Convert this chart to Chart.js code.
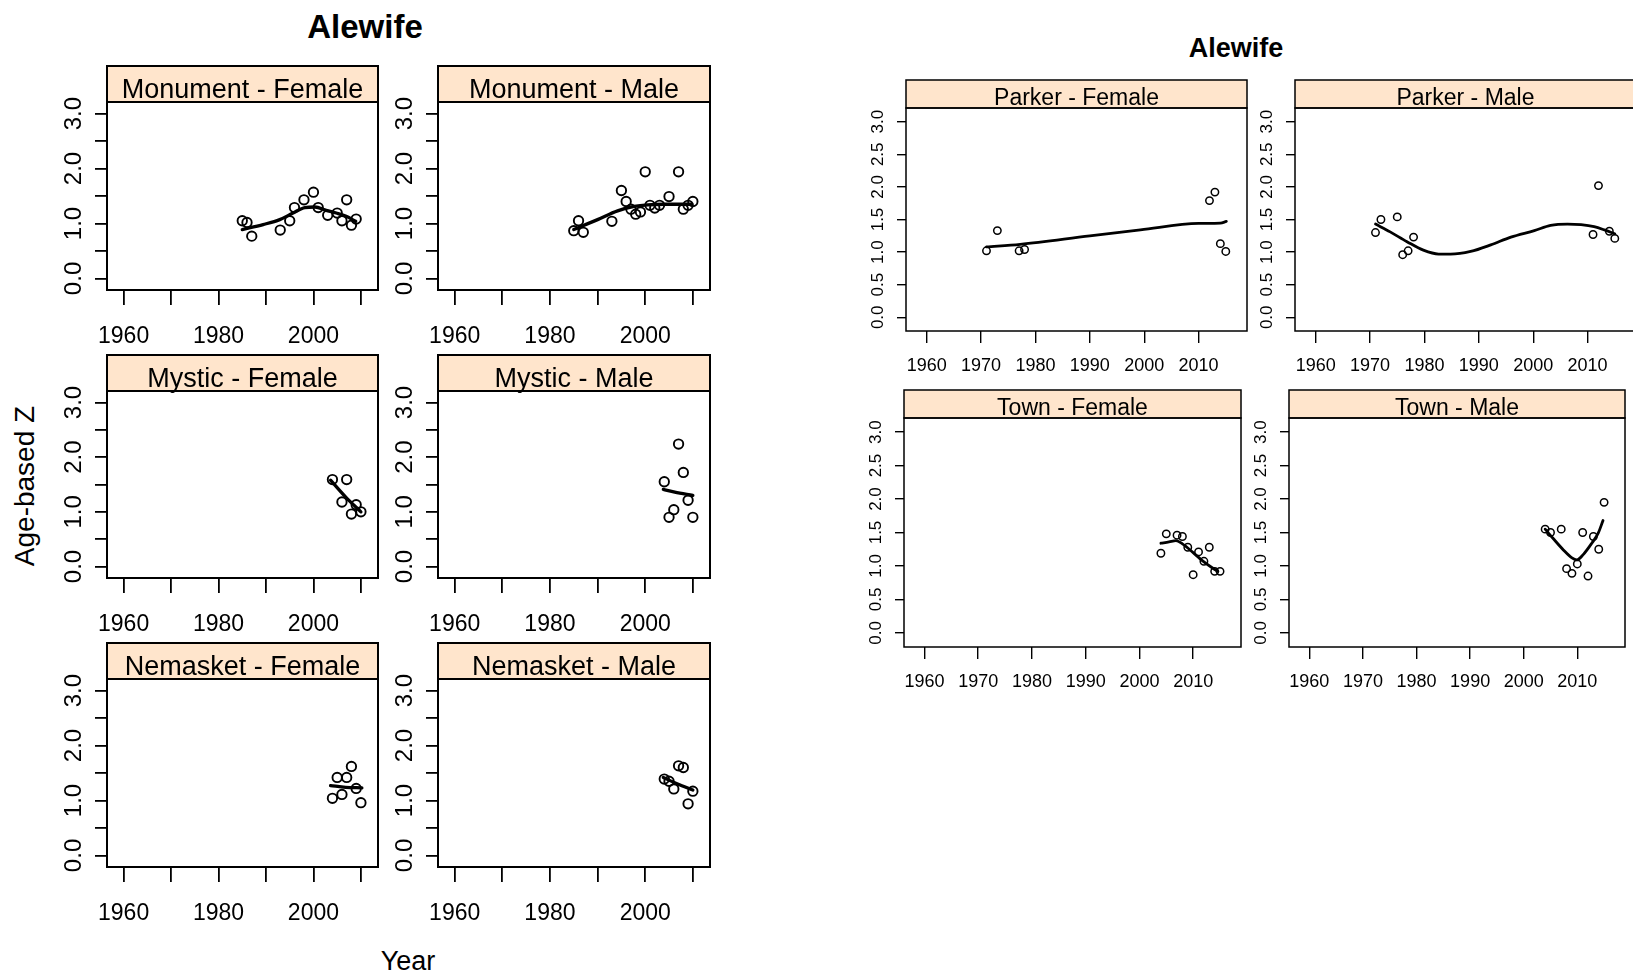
<!DOCTYPE html>
<html>
<head>
<meta charset="utf-8">
<title>Alewife - Age-based Z</title>
<script src="https://cdn.jsdelivr.net/npm/chart.js@4"></script>
<style>
  html, body { margin: 0; padding: 0; background: #fff; overflow: hidden; }
  #page { position: relative; width: 1633px; height: 979px; overflow: hidden; background: #fff;
          font-family: 'Liberation Sans', Arial, Helvetica, sans-serif; }
  #page canvas { position: absolute; }
  .label { position: absolute; white-space: nowrap; color: #000; line-height: 1; }
</style>
</head>
<body>
<div id="page">
  <div class="label" style="left:365px; top:26px; font-size:33px; font-weight:bold; transform:translate(-50%,-50%);">Alewife</div>
  <div class="label" style="left:1236px; top:48px; font-size:27px; font-weight:bold; transform:translate(-50%,-50%);">Alewife</div>
  <div class="label" style="left:25px; top:486px; font-size:28px; transform:translate(-50%,-50%) rotate(-90deg);">Age-based Z</div>
  <div class="label" style="left:408px; top:961px; font-size:27px; transform:translate(-50%,-50%);">Year</div>
</div>
<script>
Chart.defaults.font.family = "'Liberation Sans', Arial, Helvetica, sans-serif";
Chart.defaults.color = "#000";

// Axis ticks and labels
const yTickValues = [0, 0.5, 1, 1.5, 2, 2.5, 3];
const yearTickValues = [1960, 1970, 1980, 1990, 2000, 2010];
const leftYearLabels = [1960, 1980, 2000];
const rightYearLabels = [1960, 1970, 1980, 1990, 2000, 2010];
const leftZLabels = [0, 1, 2, 3];
const rightZLabels = [0, 0.5, 1, 1.5, 2, 2.5, 3];

// Monument
const monumentFemaleYear = [1985, 1986, 1987, 1993, 1995, 1996, 1998, 2000, 2001, 2003, 2005, 2006, 2007, 2008, 2009];
const monumentFemaleZ = [1.05, 1.02, 0.77, 0.88, 1.05, 1.29, 1.43, 1.57, 1.29, 1.15, 1.19, 1.05, 1.43, 0.97, 1.08];
const monumentFemaleFitYear = [1985, 1989.4, 1992.9, 1995.7, 1998.2, 2000.3, 2002.7, 2004.8, 2006.9, 2008.9];
const monumentFemaleFitZ = [0.89, 0.98, 1.07, 1.19, 1.29, 1.30, 1.24, 1.19, 1.13, 1.04];

const monumentMaleYear = [1985, 1986, 1987, 1993, 1995, 1996, 1997, 1998, 1999, 2000, 2001, 2002, 2003, 2005, 2007, 2008, 2009, 2010];
const monumentMaleZ = [0.87, 1.05, 0.84, 1.04, 1.60, 1.40, 1.26, 1.17, 1.21, 1.94, 1.33, 1.28, 1.33, 1.49, 1.94, 1.26, 1.33, 1.40];
const monumentMaleFitYear = [1985, 1990, 1994.2, 1997.7, 2000.5, 2004, 2009.8];
const monumentMaleFitZ = [0.89, 1.07, 1.23, 1.31, 1.34, 1.35, 1.35];

// Mystic
const mysticFemaleYear = [2004, 2006, 2007, 2008, 2009, 2010];
const mysticFemaleZ = [1.59, 1.18, 1.59, 0.96, 1.13, 1.00];
const mysticFemaleFitYear = [2003.6, 2006.8, 2010];
const mysticFemaleFitZ = [1.58, 1.27, 1.00];

const mysticMaleYear = [2004, 2005, 2006, 2007, 2008, 2009, 2010];
const mysticMaleZ = [1.55, 0.90, 1.04, 2.24, 1.72, 1.21, 0.90];
const mysticMaleFitYear = [2003.8, 2006.2, 2010];
const mysticMaleFitZ = [1.41, 1.36, 1.30];

// Nemasket
const nemasketFemaleYear = [2004, 2005, 2006, 2007, 2008, 2009, 2010];
const nemasketFemaleZ = [1.04, 1.42, 1.11, 1.42, 1.62, 1.22, 0.96];
const nemasketFemaleFitYear = [2003.6, 2006.8, 2010.2];
const nemasketFemaleFitZ = [1.27, 1.24, 1.23];

const nemasketMaleYear = [2004, 2005, 2006, 2007, 2008, 2009, 2010];
const nemasketMaleZ = [1.39, 1.35, 1.21, 1.63, 1.60, 0.94, 1.17];
const nemasketMaleFitYear = [2003.8, 2006.8, 2010];
const nemasketMaleFitZ = [1.42, 1.30, 1.19];

// Parker
const parkerFemaleYear = [1971, 1973, 1977, 1978, 2012, 2013, 2014, 2015];
const parkerFemaleZ = [1.02, 1.33, 1.02, 1.04, 1.79, 1.92, 1.13, 1.01];
const parkerFemaleFitYear = [1971, 1977.2, 1990, 1999.3, 2010, 2014, 2015.1];
const parkerFemaleFitZ = [1.08, 1.12, 1.25, 1.34, 1.44, 1.445, 1.47];

const parkerMaleYear = [1971, 1972, 1975, 1976, 1977, 1978, 2011, 2012, 2014, 2015];
const parkerMaleZ = [1.30, 1.50, 1.54, 0.96, 1.02, 1.23, 1.27, 2.02, 1.32, 1.21];
const parkerMaleFitYear = [1971, 1973.7, 1976.8, 1979.8, 1982.6, 1984.8, 1988.5, 1992.2, 1995.9, 2000.2, 2003.2, 2006.3, 2008.8, 2011.2, 2013.1, 2015];
const parkerMaleFitZ = [1.43, 1.31, 1.16, 1.03, 0.97, 0.97, 1.01, 1.11, 1.23, 1.33, 1.41, 1.43, 1.42, 1.39, 1.34, 1.28];

// Town
const townFemaleYear = [2004, 2005, 2007, 2008, 2009, 2010, 2011, 2012, 2013, 2014, 2015];
const townFemaleZ = [1.19, 1.48, 1.46, 1.44, 1.28, 0.87, 1.21, 1.07, 1.28, 0.92, 0.92];
const townFemaleFitYear = [2004, 2005.5, 2006.8, 2008, 2010, 2011.7, 2013.6, 2014.6];
const townFemaleFitZ = [1.34, 1.36, 1.38, 1.33, 1.20, 1.08, 0.97, 0.92];

const townMaleYear = [2004, 2005, 2007, 2008, 2009, 2010, 2011, 2012, 2013, 2014, 2015];
const townMaleZ = [1.55, 1.50, 1.55, 0.96, 0.89, 1.03, 1.50, 0.85, 1.44, 1.25, 1.95];
const townMaleFitYear = [2004, 2005.5, 2007.4, 2009, 2009.9, 2011.1, 2012.7, 2013.9, 2014.8];
const townMaleFitZ = [1.55, 1.41, 1.24, 1.12, 1.09, 1.17, 1.34, 1.49, 1.68];

// Look of the two panel groups
const leftStyle = {
  stripH: 36, stripFont: 27, textLift: 4, boxW: 2, tickW: 1.8,
  xFont: 23, xTick: 15, xPad: 18, yFont: 24, yTick: 12, yLabelGap: 33,
  padLeft: 50, padBottom: 66, xMin: 1956.5, xMax: 2013.6,
  yearLabels: leftYearLabels, zLabels: leftZLabels,
  pointR: 4.7, pointBW: 1.9, lineW: 3.3
};
const rightStyle = {
  stripH: 28, stripFont: 23, textLift: 3, boxW: 1.5, tickW: 1.4,
  xFont: 18, xTick: 12, xPad: 12, yFont: 17, yTick: 9, yLabelGap: 28,
  padLeft: 42, padBottom: 54, xMin: 1956.2, xMax: 2018.9,
  yearLabels: rightYearLabels, zLabels: rightZLabels,
  pointR: 3.7, pointBW: 1.5, lineW: 2.8
};

const panels = [
  { title: "Monument - Female", year: monumentFemaleYear, z: monumentFemaleZ, fitYear: monumentFemaleFitYear, fitZ: monumentFemaleFitZ, style: leftStyle, box: [107, 102, 378, 290] },
  { title: "Monument - Male", year: monumentMaleYear, z: monumentMaleZ, fitYear: monumentMaleFitYear, fitZ: monumentMaleFitZ, style: leftStyle, box: [438, 102, 710, 290] },
  { title: "Mystic - Female", year: mysticFemaleYear, z: mysticFemaleZ, fitYear: mysticFemaleFitYear, fitZ: mysticFemaleFitZ, style: leftStyle, box: [107, 391, 378, 578] },
  { title: "Mystic - Male", year: mysticMaleYear, z: mysticMaleZ, fitYear: mysticMaleFitYear, fitZ: mysticMaleFitZ, style: leftStyle, box: [438, 391, 710, 578] },
  { title: "Nemasket - Female", year: nemasketFemaleYear, z: nemasketFemaleZ, fitYear: nemasketFemaleFitYear, fitZ: nemasketFemaleFitZ, style: leftStyle, box: [107, 679, 378, 867] },
  { title: "Nemasket - Male", year: nemasketMaleYear, z: nemasketMaleZ, fitYear: nemasketMaleFitYear, fitZ: nemasketMaleFitZ, style: leftStyle, box: [438, 679, 710, 867] },
  { title: "Parker - Female", year: parkerFemaleYear, z: parkerFemaleZ, fitYear: parkerFemaleFitYear, fitZ: parkerFemaleFitZ, style: rightStyle, box: [906, 108, 1247, 331] },
  { title: "Parker - Male", year: parkerMaleYear, z: parkerMaleZ, fitYear: parkerMaleFitYear, fitZ: parkerMaleFitZ, style: rightStyle, box: [1295, 108, 1636, 331] },
  { title: "Town - Female", year: townFemaleYear, z: townFemaleZ, fitYear: townFemaleFitYear, fitZ: townFemaleFitZ, style: rightStyle, box: [904, 418, 1241, 647] },
  { title: "Town - Male", year: townMaleYear, z: townMaleZ, fitYear: townMaleFitYear, fitZ: townMaleFitZ, style: rightStyle, box: [1289, 418, 1625, 647] }
];

const FONT = "'Liberation Sans', Arial, Helvetica, sans-serif";

// Strip, plot box and rotated y labels
const panelFrame = {
  id: "panelFrame",
  afterDatasetsDraw(chart, args, opts) {
    const ctx = chart.ctx;
    const a = chart.chartArea;
    const s = opts.style;
    const w = a.right - a.left;
    ctx.save();
    ctx.fillStyle = "#ffe5cc";
    ctx.fillRect(a.left, a.top - s.stripH, w, s.stripH);
    ctx.strokeStyle = "#000";
    ctx.lineWidth = s.boxW;
    ctx.strokeRect(a.left, a.top - s.stripH, w, s.stripH);
    ctx.strokeRect(a.left, a.top, w, a.bottom - a.top);

    ctx.fillStyle = "#000";
    ctx.font = s.stripFont + "px " + FONT;
    ctx.textAlign = "center";
    ctx.textBaseline = "alphabetic";
    ctx.fillText(opts.title, (a.left + a.right) / 2, a.top - s.textLift);

    const yScale = chart.scales.y;
    ctx.font = s.yFont + "px " + FONT;
    ctx.textBaseline = "middle";
    s.zLabels.forEach(function (v) {
      ctx.save();
      ctx.translate(a.left - s.yLabelGap, yScale.getPixelForValue(v));
      ctx.rotate(-Math.PI / 2);
      ctx.fillText(v.toFixed(1), 0, 0);
      ctx.restore();
    });
    ctx.restore();
  }
};

const page = document.getElementById("page");

function makePanel(p) {
  const s = p.style;
  const L = p.box[0], T = p.box[1], R = p.box[2], B = p.box[3];
  const top = T - s.stripH - 4;
  const canvas = document.createElement("canvas");
  canvas.width = R - L + s.padLeft + 12;
  canvas.height = B - top + s.padBottom;
  canvas.style.left = (L - s.padLeft) + "px";
  canvas.style.top = top + "px";
  page.appendChild(canvas);

  new Chart(canvas, {
    type: "scatter",
    data: {
      datasets: [
        {
          data: p.year.map((x, i) => ({ x: x, y: p.z[i] })),
          pointStyle: "circle",
          pointRadius: s.pointR,
          pointBorderWidth: s.pointBW,
          pointBorderColor: "#000",
          pointBackgroundColor: "rgba(0,0,0,0)",
          showLine: false
        },
        {
          data: p.fitYear.map((x, i) => ({ x: x, y: p.fitZ[i] })),
          showLine: true,
          pointRadius: 0,
          borderColor: "#000",
          borderWidth: s.lineW,
          borderCapStyle: "round",
          borderJoinStyle: "round",
          cubicInterpolationMode: "monotone"
        }
      ]
    },
    options: {
      responsive: false,
      animation: false,
      events: [],
      layout: { padding: { top: s.stripH + 4, right: 12, left: 0, bottom: 0 } },
      plugins: {
        legend: { display: false },
        tooltip: { enabled: false },
        panelFrame: { title: p.title, style: s }
      },
      scales: {
        x: {
          type: "linear",
          min: s.xMin,
          max: s.xMax,
          afterBuildTicks: (sc) => { sc.ticks = yearTickValues.map((v) => ({ value: v })); },
          afterFit: (sc) => { sc.height = s.padBottom; sc.paddingLeft = 0; sc.paddingRight = 0; },
          border: { display: false },
          grid: { drawOnChartArea: false, drawTicks: true, tickLength: s.xTick, tickColor: "#000", tickWidth: s.tickW, lineWidth: s.tickW },
          ticks: {
            autoSkip: false, maxRotation: 0, minRotation: 0,
            padding: s.xPad, color: "#000", font: { size: s.xFont },
            callback: (v) => (s.yearLabels.includes(v) ? String(v) : "")
          }
        },
        y: {
          type: "linear",
          min: -0.21,
          max: 3.21,
          afterBuildTicks: (sc) => { sc.ticks = yTickValues.map((v) => ({ value: v })); },
          afterFit: (sc) => { sc.width = s.padLeft; sc.paddingTop = 0; sc.paddingBottom = 0; },
          border: { display: false },
          grid: { drawOnChartArea: false, drawTicks: true, tickLength: s.yTick, tickColor: "#000", tickWidth: s.tickW, lineWidth: s.tickW },
          ticks: { display: false }
        }
      }
    },
    plugins: [panelFrame]
  });
}

panels.forEach(makePanel);
</script>
</body>
</html>
